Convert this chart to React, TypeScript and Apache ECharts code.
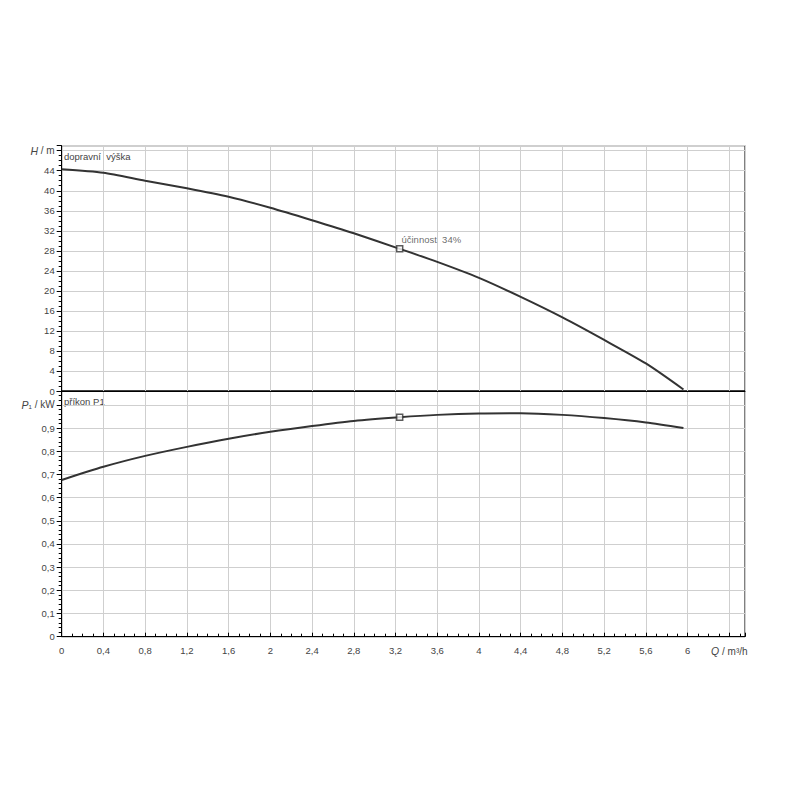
import React, { useEffect, useRef } from "react";
import * as echarts from "echarts";

const flowQ = [0, 0.4, 0.8, 1.2, 1.6, 2.0, 2.4, 2.8, 3.24, 3.6, 4.0, 4.4, 4.8, 5.2, 5.6, 5.96];
const headH = [44.3, 43.6, 42.0, 40.5, 38.8, 36.6, 34.1, 31.5, 28.4, 25.8, 22.6, 18.8, 14.7, 10.2, 5.5, 0.3];
const powerP = [0.676, 0.733, 0.78, 0.819, 0.854, 0.884, 0.909, 0.931, 0.947, 0.957, 0.963, 0.964, 0.957, 0.943, 0.924, 0.9];
const dutyQ = 3.24;
const dutyH = 28.4;
const dutyP = 0.947;
const efficiencyLabel = "účinnost  34%";
const headTitle = "dopravní  výška";
const powerTitle = "příkon P1";

const FONT = "Liberation Sans, Arial, sans-serif";
const LABEL_COLOR = "#444";
const LINE_COLOR = "#333";
const GRID_COLOR = "#cfcfcf";
const FS = 9.5;

const fmtNum = (v: number, dec: number) => {
  if (Math.abs(v) < 1e-9) return "0";
  const s = Number(v.toFixed(dec)).toString();
  return s.replace(".", ",");
};

export default function App() {
  const ref = useRef<HTMLDivElement>(null);
  useEffect(() => {
    document.body.style.margin = "0";
    if (!ref.current) return;
    const chart = echarts.init(ref.current, undefined, { renderer: "svg" });
    const rich = {
      i: { fontStyle: "italic", fontFamily: FONT, fontSize: 10.5, color: LABEL_COLOR },
      n: { fontFamily: FONT, fontSize: 10, color: LABEL_COLOR },
    };
    const gridCommon = {
      left: 61.7,
      right: 55,
      show: true,
      borderColor: "#000",
      borderWidth: 1,
      backgroundColor: "transparent",
    };
    const xCommon = {
      type: "value" as const,
      min: 0,
      max: 6.55,
      interval: 0.4,
      splitLine: { show: true, lineStyle: { color: GRID_COLOR, width: 1 } },
      axisLine: { show: true, lineStyle: { color: "#000", width: 1 } },
    };
    const labelBase = {
      fontSize: FS,
      color: LABEL_COLOR,
      fontFamily: FONT,
      showMaxLabel: false,
      rich,
    };
    const option: any = {
      animation: false,
      backgroundColor: "#fff",
      textStyle: { fontFamily: FONT },
      grid: [
        { ...gridCommon, top: 145.7, height: 245.3 },
        { ...gridCommon, top: 391, height: 245.7 },
      ],
      xAxis: [
        {
          ...xCommon,
          gridIndex: 0,
          axisLabel: { show: false },
          axisTick: { show: false },
        },
        {
          ...xCommon,
          gridIndex: 1,
          axisTick: { show: true, inside: true, length: 4, lineStyle: { color: "#000" } },
          minorTick: { show: true, splitNumber: 4, length: 3, lineStyle: { color: "#000" } },
          axisLabel: {
            ...labelBase,
            show: true,
            margin: 9,
            formatter: (v: number) => {
              if (Math.abs(v - 6.4) < 0.01) return "{i|Q}{n| / m³/h}";
              if (v > 6.1) return "";
              return fmtNum(v, 1);
            },
          },
        },
      ],
      yAxis: [
        {
          type: "value",
          gridIndex: 0,
          min: 0,
          max: 49,
          interval: 4,
          splitLine: { show: true, lineStyle: { color: GRID_COLOR, width: 1 } },
          axisLine: { show: true, lineStyle: { color: "#000", width: 1 } },
          axisTick: { show: true, inside: false, length: 5, lineStyle: { color: "#000" } },
          minorTick: { show: true, splitNumber: 4, length: 3, lineStyle: { color: "#000" } },
          axisLabel: {
            ...labelBase,
            margin: 7,
            formatter: (v: number) => {
              if (Math.abs(v - 48) < 0.01) return "{i|H}{n| / m}";
              if (v > 48) return "";
              return fmtNum(v, 0);
            },
          },
        },
        {
          type: "value",
          gridIndex: 1,
          min: 0,
          max: 1.06,
          interval: 0.1,
          splitLine: { show: true, lineStyle: { color: GRID_COLOR, width: 1 } },
          axisLine: { show: true, lineStyle: { color: "#000", width: 1 } },
          axisTick: { show: true, inside: false, length: 5, lineStyle: { color: "#000" } },
          minorTick: { show: true, splitNumber: 5, length: 3, lineStyle: { color: "#000" } },
          axisLabel: {
            ...labelBase,
            margin: 7,
            formatter: (v: number) => {
              if (Math.abs(v - 1) < 0.001) return "{i|P}{n|₁ / kW}";
              if (v > 1.001) return "";
              return fmtNum(v, 1);
            },
          },
        },
      ],
      graphic: [
        {
          type: "text",
          left: 64,
          top: 151,
          style: { text: headTitle, fontSize: FS, fill: LABEL_COLOR, fontFamily: FONT },
        },
        {
          type: "text",
          left: 64,
          top: 396,
          style: { text: powerTitle, fontSize: FS, fill: LABEL_COLOR, fontFamily: FONT },
        },
      ],
      series: [
        {
          type: "line",
          xAxisIndex: 0,
          yAxisIndex: 0,
          data: flowQ.map((q, i) => [q, headH[i]]),
          smooth: 0.25,
          showSymbol: false,
          lineStyle: { color: LINE_COLOR, width: 2 },
          z: 3,
        },
        {
          type: "line",
          xAxisIndex: 1,
          yAxisIndex: 1,
          data: flowQ.map((q, i) => [q, powerP[i]]),
          smooth: 0.25,
          showSymbol: false,
          lineStyle: { color: LINE_COLOR, width: 2 },
          z: 3,
        },
        {
          type: "scatter",
          xAxisIndex: 0,
          yAxisIndex: 0,
          data: [[dutyQ, dutyH]],
          symbol: "rect",
          symbolSize: 6,
          itemStyle: { color: "#fff", borderColor: LINE_COLOR, borderWidth: 1.5 },
          label: {
            show: true,
            position: "right",
            offset: [-7, -9],
            formatter: efficiencyLabel,
            fontSize: FS,
            color: LABEL_COLOR,
            fontFamily: FONT,
          },
          z: 5,
        },
        {
          type: "scatter",
          xAxisIndex: 1,
          yAxisIndex: 1,
          data: [[dutyQ, dutyP]],
          symbol: "rect",
          symbolSize: 6,
          itemStyle: { color: "#fff", borderColor: LINE_COLOR, borderWidth: 1.5 },
          z: 5,
        },
      ],
    };
    chart.setOption(option);
    return () => chart.dispose();
  }, []);
  return <div ref={ref} style={{ width: 800, height: 800 }} />;
}
